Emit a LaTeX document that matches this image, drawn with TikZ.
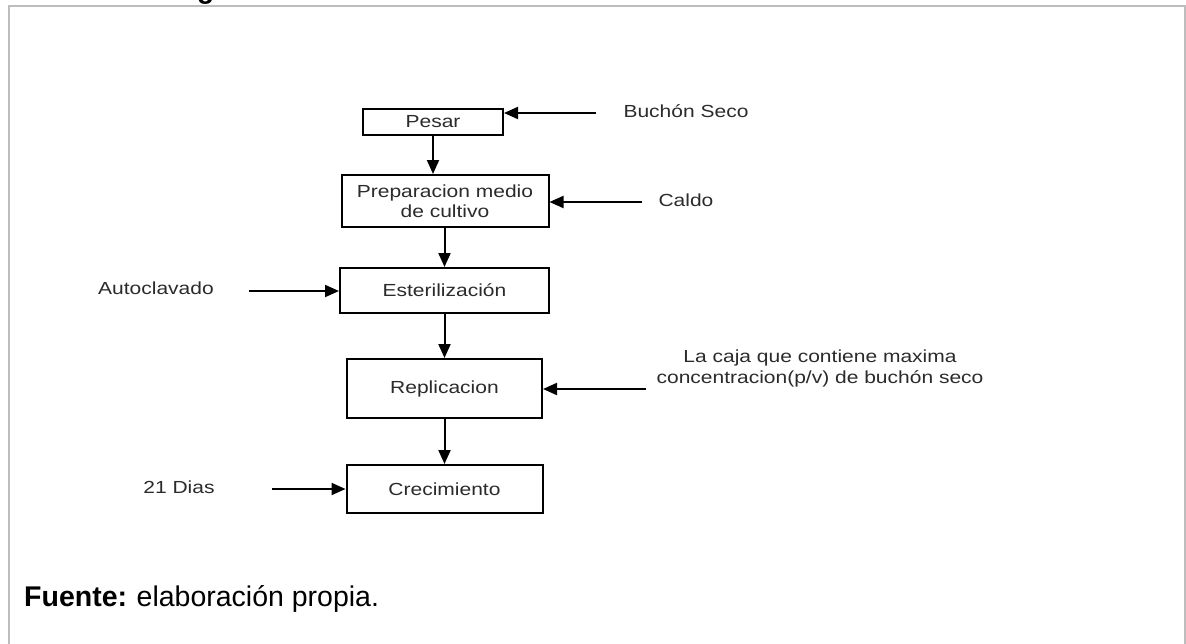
\documentclass[tikz,border=0pt]{standalone}
\usepackage{fontspec}
\setmainfont{Liberation Sans}
\newfontfamily\diagfont[FakeStretch=1.2]{Liberation Sans}
\usetikzlibrary{arrows.meta}
\definecolor{framegray}{HTML}{BDBDBD}
\definecolor{labelgray}{HTML}{2B2B2B}
\tikzset{
  stage/.style={draw=black, line width=2pt, rectangle, inner sep=0pt,
    font=\diagfont\fontsize{17.5}{20}\selectfont, text=labelgray, align=center},
  sidelabel/.style={font=\diagfont\fontsize{17.5}{21}\selectfont, text=labelgray,
    align=center, inner sep=0pt},
  flow/.style={draw=black, line width=2pt, -{Triangle[length=14pt,width=12pt]}},
  frameline/.style={draw=framegray, line width=2pt}
}
\begin{document}
\begin{tikzpicture}[x=1pt,y=-1pt]
  \useasboundingbox (0,0) rectangle (1186,643);
  \clip (0,0) rectangle (1186,643);
  \fill[white] (0,0) rectangle (1186,643);

  % surrounding frame, open at the bottom
  \draw[frameline] (9,650) -- (9,5.5) -- (1184.5,5.5) -- (1184.5,650);

  % lower part of the heading above the frame
  \node[anchor=base west, inner sep=0pt, font=\bfseries\fontsize{28}{32}\selectfont]
    (heading) at (197,-2) {g};

  % process stages
  \node[stage, minimum width=140pt, minimum height=26pt] (pesar) at (433,122) {Pesar};
  \node[stage, minimum width=207pt, minimum height=52pt] (prep) at (445,201)
    {Preparacion medio\\de cultivo};
  \node[stage, minimum width=209pt, minimum height=45pt] (ester) at (444.5,290.5)
    {Esterilización};
  \node[stage, minimum width=195pt, minimum height=59pt] (repl) at (444.5,388.5)
    {Replicacion};
  \node[stage, minimum width=196pt, minimum height=48pt] (crec) at (444.5,489)
    {Crecimiento};

  % inputs
  \node[sidelabel, anchor=base] (buchon) at (686,117) {Buchón Seco};
  \node[sidelabel, anchor=base] (caldo) at (686,206.5) {Caldo};
  \node[sidelabel, anchor=base] (autoc) at (156,294.5) {Autoclavado};
  \node[sidelabel, anchor=base] (caja) at (820,383)
    {La caja que contiene maxima\\concentracion(p/v) de buchón seco};
  \node[sidelabel, anchor=base] (dias) at (179,493) {21 Dias};

  \coordinate (buchonIn) at (596,113);
  \coordinate (caldoIn) at (642,202);
  \coordinate (autocIn) at (249,291);
  \coordinate (cajaIn) at (646,389);
  \coordinate (diasIn) at (272,489);

  % main flow
  \draw[flow] (pesar.south) -- (pesar.south |- prep.north);
  \draw[flow] (prep.south -| ester.north) -- (ester.north);
  \draw[flow] (ester.south) -- (repl.north);
  \draw[flow] (repl.south) -- (crec.north);

  % input arrows
  \draw[flow] (buchonIn) -- (buchonIn -| pesar.east);
  \draw[flow] (caldoIn) -- (caldoIn -| prep.east);
  \draw[flow] (autocIn) -- (autocIn -| ester.west);
  \draw[flow] (cajaIn) -- (cajaIn -| repl.east);
  \draw[flow] (diasIn) -- (diasIn -| crec.west);

  % source note
  \node[anchor=base west, inner sep=0pt, font=\fontsize{28.5}{32}\selectfont]
    (fuente) at (24,606) {\textbf{Fuente:}\hspace{-1pt} elaboración propia.};
\end{tikzpicture}
\end{document}
